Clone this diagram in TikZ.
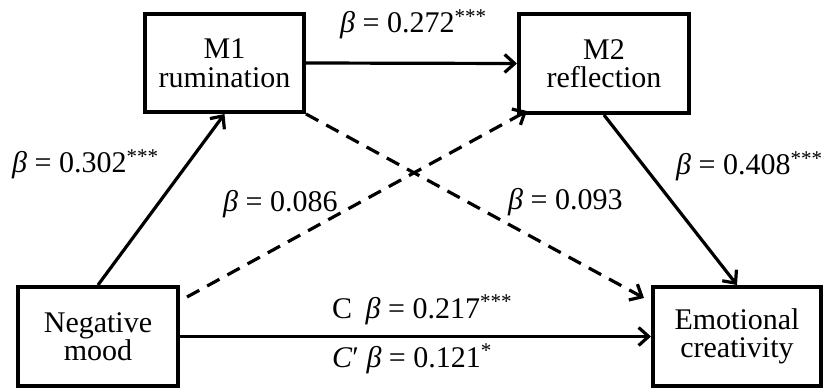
\documentclass[tikz,border=0pt]{standalone}
\usepackage{fontspec}
\setmainfont{Liberation Serif}
\usetikzlibrary{arrows.meta}
\begin{document}
\begin{tikzpicture}[x=1pt,y=-1pt,
 box/.style={draw,line width=4pt,inner sep=0pt,align=center,font=\fontsize{30}{28.5}\selectfont},
 lab/.style={anchor=base west,inner sep=0pt,font=\fontsize{30}{30}\selectfont},
 arr/.style={line width=3.2pt,-{Straight Barb[length=10pt,width=18pt]}},
 dsh/.style={arr,dash pattern=on 14pt off 9pt}]
\useasboundingbox (0,0) rectangle (825,390);
\node[box,minimum width=159pt,minimum height=98pt] (M1) at (224.5,63) {M1\\rumination};
\node[box,minimum width=170pt,minimum height=99pt] (M2) at (604,63.5) {M2\\reflection};
\node[box,minimum width=160pt,minimum height=99pt] (NM) at (98,336.5) {Negative\\mood};
\node[box,minimum width=168pt,minimum height=99pt] (EC) at (737,336.5) {Emotional\\creativity};
\coordinate (d1) at ([shift={(-7,13)}]EC.north west);
\coordinate (d2s) at ([shift={(7,12)}]NM.north east);
\coordinate (d2e) at ([shift={(10,-4)}]M2.south west);
\draw[arr] (NM.north) -- (M1.south);
\draw[arr] (M1.east) -- (M2.west);
\draw[arr] (M2.south) -- (EC.north);
\draw[arr] (NM.east) -- (EC.west);
\draw[dsh] (M1.south east) -- (d1);
\draw[dsh] (d2s) -- (d2e);
\node[lab] (l1) at (12,173) {\textit{β} = 0.302\textsuperscript{***}};
\node[lab] (l2) at (340,33) {\textit{β} = 0.272\textsuperscript{***}};
\node[lab] (l3) at (676,175) {\textit{β} = 0.408\textsuperscript{***}};
\node[lab] (l4) at (223,212) {\textit{β} = 0.086};
\node[lab] (l5) at (508,210) {\textit{β} = 0.093};
\node[lab] (l6) at (332,318) {C\hspace{0.45em}\textit{β} = 0.217\textsuperscript{***}};
\node[lab] (l7) at (332,367) {\textit{C}′ \textit{β} = 0.121\textsuperscript{*}};
\end{tikzpicture}
\end{document}
